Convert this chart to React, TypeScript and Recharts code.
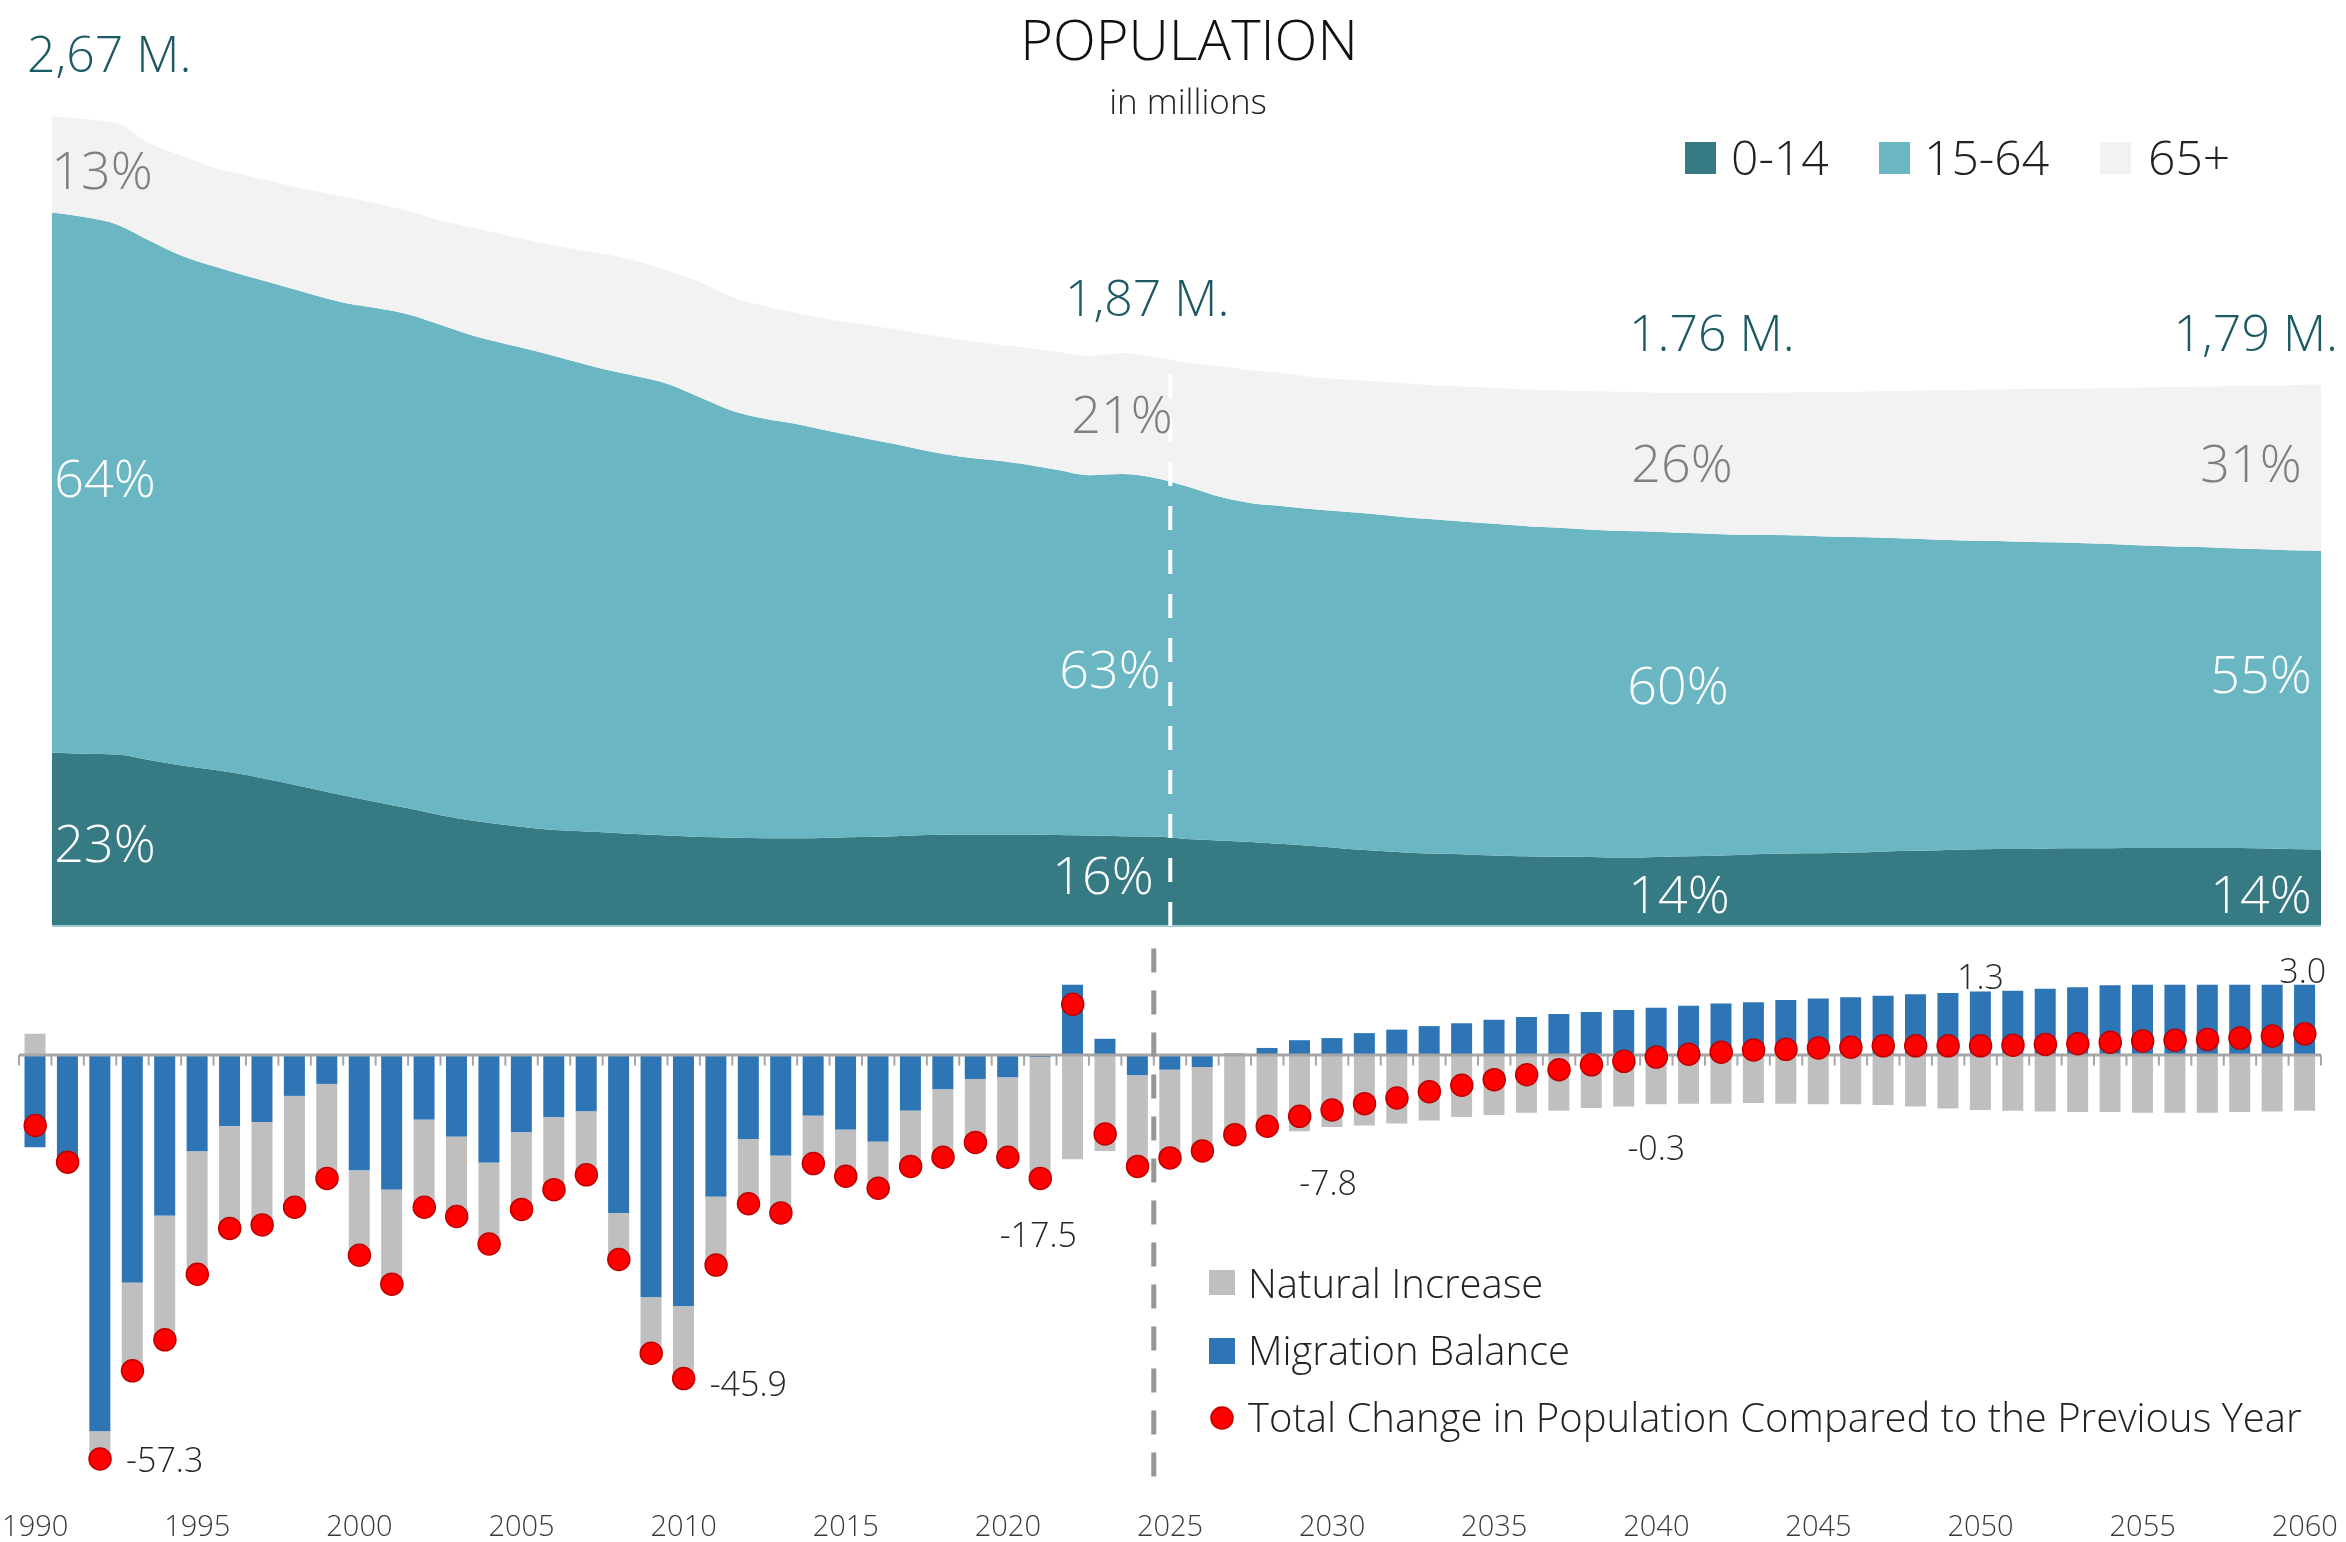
import React from "react";
import {
  AreaChart, Area, ComposedChart, Bar, Line, XAxis, YAxis, ReferenceLine, LabelList,
} from "recharts";

const YEARS = [
  1990, 1991, 1992, 1993, 1994, 1995, 1996, 1997, 1998, 1999,
  2000, 2001, 2002, 2003, 2004, 2005, 2006, 2007, 2008, 2009,
  2010, 2011, 2012, 2013, 2014, 2015, 2016, 2017, 2018, 2019,
  2020, 2021, 2022, 2023, 2024, 2025, 2026, 2027, 2028, 2029,
  2030, 2031, 2032, 2033, 2034, 2035, 2036, 2037, 2038, 2039,
  2040, 2041, 2042, 2043, 2044, 2045, 2046, 2047, 2048, 2049,
  2050, 2051, 2052, 2053, 2054, 2055, 2056, 2057, 2058, 2059,
  2060,
];

// population by age group, millions
const AGE_0_14 = [
  0.572, 0.568, 0.565, 0.547, 0.529, 0.515, 0.498, 0.476, 0.453, 0.430,
  0.409, 0.388, 0.365, 0.347, 0.333, 0.321, 0.314, 0.309, 0.303, 0.298,
  0.293, 0.291, 0.289, 0.289, 0.291, 0.293, 0.296, 0.300, 0.302, 0.302,
  0.302, 0.300, 0.298, 0.296, 0.295, 0.287, 0.282, 0.277, 0.270, 0.263,
  0.254, 0.247, 0.241, 0.238, 0.234, 0.231, 0.229, 0.228, 0.226, 0.226,
  0.229, 0.231, 0.234, 0.238, 0.240, 0.241, 0.243, 0.247, 0.249, 0.252,
  0.254, 0.254, 0.256, 0.256, 0.257, 0.257, 0.257, 0.257, 0.256, 0.254,
  0.252,
];
const AGE_15_64 = [
  1.780, 1.769, 1.748, 1.713, 1.681, 1.660, 1.645, 1.637, 1.630, 1.625,
  1.628, 1.628, 1.616, 1.599, 1.586, 1.572, 1.550, 1.527, 1.510, 1.489,
  1.449, 1.407, 1.383, 1.365, 1.340, 1.317, 1.293, 1.266, 1.246, 1.234,
  1.220, 1.204, 1.188, 1.194, 1.183, 1.163, 1.134, 1.117, 1.114, 1.110,
  1.111, 1.109, 1.104, 1.100, 1.095, 1.091, 1.086, 1.082, 1.078, 1.075,
  1.068, 1.063, 1.056, 1.051, 1.047, 1.042, 1.039, 1.031, 1.025, 1.019,
  1.015, 1.012, 1.008, 1.005, 1.000, 0.996, 0.993, 0.989, 0.987, 0.985,
  0.985,
];
const AGE_65_PLUS = [
  0.317, 0.323, 0.334, 0.320, 0.330, 0.325, 0.332, 0.336, 0.342, 0.350,
  0.346, 0.340, 0.344, 0.356, 0.358, 0.361, 0.369, 0.380, 0.380, 0.374,
  0.380, 0.375, 0.371, 0.366, 0.368, 0.375, 0.378, 0.383, 0.385, 0.383,
  0.385, 0.389, 0.393, 0.399, 0.397, 0.408, 0.429, 0.438, 0.438, 0.435,
  0.436, 0.438, 0.442, 0.443, 0.447, 0.449, 0.452, 0.454, 0.458, 0.459,
  0.461, 0.464, 0.468, 0.469, 0.473, 0.477, 0.480, 0.486, 0.491, 0.496,
  0.500, 0.505, 0.507, 0.511, 0.517, 0.523, 0.528, 0.533, 0.538, 0.544,
  0.548,
];

// yearly change, thousands
const MIGRATION = [
  -13.1, -15.0, -53.4, -32.3, -22.8, -13.7, -10.1, -9.5, -5.8, -4.1,
  -16.4, -19.1, -9.2, -11.6, -15.3, -11.0, -8.8, -8.0, -22.4, -34.4,
  -35.6, -20.1, -11.9, -14.3, -8.6, -10.6, -12.3, -7.9, -4.9, -3.4,
  -3.2, -0.3, 22.0, 2.3, -2.9, -2.1, -1.7, 0.2, 1.0, 2.1,
  2.4, 3.1, 3.6, 4.1, 4.5, 5.0, 5.4, 5.8, 6.1, 6.4,
  6.7, 7.0, 7.3, 7.5, 7.8, 8.0, 8.2, 8.4, 8.6, 8.8,
  9.0, 9.1, 9.4, 9.6, 9.9, 10.2, 10.3, 10.4, 10.5, 10.7,
  10.9,
];
const NATURAL = [
  3.0, -0.2, -3.9, -12.5, -17.6, -17.4, -14.5, -14.6, -15.8, -13.4,
  -12.0, -13.4, -12.4, -11.3, -11.5, -10.9, -10.3, -9.0, -6.6, -7.9,
  -10.3, -9.7, -9.2, -8.1, -6.8, -6.6, -6.6, -7.9, -9.6, -9.0,
  -11.3, -17.2, -14.8, -13.6, -12.9, -12.5, -11.9, -11.5, -11.1, -10.8,
  -10.2, -10.0, -9.7, -9.3, -8.8, -8.5, -8.2, -7.9, -7.5, -7.3,
  -7.0, -6.9, -6.9, -6.8, -6.9, -7.0, -7.0, -7.1, -7.3, -7.6,
  -7.8, -7.9, -8.0, -8.1, -8.1, -8.2, -8.2, -8.2, -8.1, -8.0,
  -7.9,
];
const TOTAL = [
  -10.0, -15.2, -57.3, -44.8, -40.4, -31.1, -24.6, -24.1, -21.6, -17.5,
  -28.4, -32.5, -21.6, -22.9, -26.8, -21.9, -19.1, -17.0, -29.0, -42.3,
  -45.9, -29.8, -21.1, -22.4, -15.4, -17.2, -18.9, -15.8, -14.5, -12.4,
  -14.5, -17.5, 7.2, -11.2, -15.8, -14.6, -13.6, -11.3, -10.1, -8.7,
  -7.8, -6.9, -6.1, -5.2, -4.3, -3.5, -2.8, -2.1, -1.4, -0.9,
  -0.3, 0.1, 0.4, 0.7, 0.8, 1.0, 1.1, 1.3, 1.3, 1.3,
  1.3, 1.4, 1.5, 1.6, 1.8, 2.0, 2.1, 2.2, 2.4, 2.7,
  3.0,
];

const FONT = '"Segoe UI", "Open Sans", "Noto Sans", sans-serif';
const TEAL_DARK = "#367a83";
const TEAL = "#6ab6c3";
const LIGHT = "#f2f2f2";
const BLUE = "#2e75b6";
const GRAY = "#bfbfbf";
const RED = "#ff0000";
const HEAD = "#1b5a63";

const popData = YEARS.map((year, i) => ({
  year, young: AGE_0_14[i], working: AGE_15_64[i], senior: AGE_65_PLUS[i],
}));
const changeData = YEARS.map((year, i) => ({
  year, migration: MIGRATION[i], natural: NATURAL[i], total: TOTAL[i],
}));

// dots that carry a value label, and where the label sits
const DOT_LABELS: Record<number, { dx: number; dy: number; anchor: "start" | "middle" }> = {
  1992: { dx: 26, dy: 0, anchor: "start" },
  2010: { dx: 26, dy: 4, anchor: "start" },
  2021: { dx: -2, dy: 56, anchor: "middle" },
  2030: { dx: -4, dy: 72, anchor: "middle" },
  2040: { dx: 0, dy: 90, anchor: "middle" },
  2050: { dx: 0, dy: -70, anchor: "middle" },
  2060: { dx: -2, dy: -64, anchor: "middle" },
};

function DotLabel(props: any) {
  const { index, value } = props;
  const cfg = DOT_LABELS[YEARS[index]];
  if (!cfg) return null;
  const x = props.x ?? props.viewBox?.x;
  const y = props.y ?? props.viewBox?.y;
  return (
    <text x={x + cfg.dx} y={y + cfg.dy} textAnchor={cfg.anchor} dominantBaseline="central"
      fontSize={34} fontFamily={FONT} fontWeight={300} fill="#262626">
      {Number(value).toFixed(1)}
    </text>
  );
}

const PCT_LABELS = [
  { t: "13%", x: 102, y: 189, c: "#7f7f7f" },
  { t: "64%", x: 105, y: 497, c: "#fff" },
  { t: "23%", x: 105, y: 862, c: "#fff" },
  { t: "21%", x: 1122, y: 433, c: "#7f7f7f" },
  { t: "63%", x: 1110, y: 688, c: "#fff" },
  { t: "16%", x: 1103, y: 894, c: "#fff" },
  { t: "26%", x: 1682, y: 482, c: "#7f7f7f" },
  { t: "60%", x: 1678, y: 704, c: "#fff" },
  { t: "14%", x: 1679, y: 913, c: "#fff" },
  { t: "31%", x: 2251, y: 482, c: "#7f7f7f" },
  { t: "55%", x: 2261, y: 693, c: "#fff" },
  { t: "14%", x: 2261, y: 913, c: "#fff" },
];

const boundaryYears = YEARS.map((y) => ({ y, pos: "start" as const }))
  .concat([{ y: 2060, pos: "end" as const }]);

export default function App() {
  return (
    <div style={{ position: "fixed", left: 0, top: 0, width: 2346, height: 1542, background: "#fff", fontFamily: FONT }}>
      <div style={{ position: "absolute", left: 0, top: 0 }}>
        <AreaChart width={2346} height={940} data={popData} margin={{ top: 107, right: 25, bottom: 14, left: 52 }}>
          <XAxis dataKey="year" type="number" domain={[1990, 2060]} hide />
          <YAxis domain={[0, 2.7]} hide />
          <Area type="monotone" dataKey="young" stackId="p" stroke="none" fill={TEAL_DARK} fillOpacity={1} isAnimationActive={false} />
          <Area type="monotone" dataKey="working" stackId="p" stroke="none" fill={TEAL} fillOpacity={1} isAnimationActive={false} />
          <Area type="monotone" dataKey="senior" stackId="p" stroke="none" fill={LIGHT} fillOpacity={1} isAnimationActive={false} />
          <ReferenceLine y={0} stroke="#9ccbd3" strokeWidth={2} />
          <ReferenceLine x={2024.5} stroke="#ffffff" strokeWidth={4} strokeDasharray="24 20" />
        </AreaChart>
      </div>

      <div style={{ position: "absolute", left: 0, top: 940 }}>
        <ComposedChart width={2346} height={618} data={changeData} stackOffset="sign" barCategoryGap="17%"
          margin={{ top: 44.5, right: 25, bottom: 0, left: 19 }}>
          <XAxis dataKey="year" interval={4} tickLine={false} axisLine={false} height={80} tickMargin={31}
            tick={{ fontSize: 29, fill: "#3a3a3a", fontFamily: FONT, fontWeight: 300 }} />
          <YAxis domain={[-60, 10]} allowDataOverflow hide />
          <Bar dataKey="migration" stackId="c" fill={BLUE} isAnimationActive={false} />
          <Bar dataKey="natural" stackId="c" fill={GRAY} isAnimationActive={false} />
          <ReferenceLine y={0} stroke="#a6a6a6" strokeWidth={3} />
          {boundaryYears.map((b, i) => (
            <ReferenceLine key={i} position={b.pos} stroke="#a6a6a6" strokeWidth={2}
              segment={[{ x: b.y, y: 0 }, { x: b.y, y: -1.5 }]} />
          ))}
          <ReferenceLine x={2025} position="start"
            shape={(p: any) => (
              <line x1={p.x1} x2={p.x2} y1={Math.min(p.y1, p.y2) - 36} y2={Math.max(p.y1, p.y2)}
                stroke="#969696" strokeWidth={5} strokeDasharray="24 18" />
            )} />
          <Line dataKey="total" stroke="none" activeDot={false} isAnimationActive={false}
            dot={{ r: 11, fill: RED, stroke: "#c00000", strokeWidth: 1.5 }}>
            <LabelList dataKey="total" content={<DotLabel />} />
          </Line>
        </ComposedChart>
      </div>

      <svg width={2346} height={1542} style={{ position: "absolute", left: 0, top: 0, pointerEvents: "none" }}
        fontFamily={FONT} fontWeight={300}>
        <text x={1189} y={60} textAnchor="middle" fontSize={56} fill="#111">POPULATION</text>
        <text x={1188} y={114} textAnchor="middle" fontSize={35} fill="#222">in millions</text>

        <text x={27} y={72} fontSize={50} fill={HEAD}>2,67 M.</text>
        <text x={1065} y={316} fontSize={50} fill={HEAD}>1,87 M.</text>
        <text x={1629} y={351} fontSize={50} fill={HEAD}>1.76 M.</text>
        <text x={2338} y={351} textAnchor="end" fontSize={50} fill={HEAD}>1,79 M.</text>

        {PCT_LABELS.map((l, i) => (
          <text key={i} x={l.x} y={l.y} textAnchor="middle" fontSize={52} fill={l.c}>{l.t}</text>
        ))}

        <rect x={1685} y={142} width={31} height={32} fill={TEAL_DARK} />
        <text x={1731} y={175} fontSize={48} fill="#222">0-14</text>
        <rect x={1879} y={142} width={31} height={32} fill={TEAL} />
        <text x={1924} y={175} fontSize={48} fill="#222">15-64</text>
        <rect x={2100} y={142} width={31} height={32} fill={LIGHT} />
        <text x={2148} y={175} fontSize={48} fill="#222">65+</text>

        <rect x={1209} y={1270} width={26} height={25} fill={GRAY} />
        <text x={1248} y={1298} fontSize={40} fill="#222">Natural Increase</text>
        <rect x={1209} y={1338} width={26} height={26} fill={BLUE} />
        <text x={1248} y={1365} fontSize={40} fill="#222">Migration Balance</text>
        <circle cx={1222} cy={1418} r={11} fill={RED} stroke="#c00000" strokeWidth={1.5} />
        <text x={1248} y={1432} fontSize={40} fill="#222">Total Change in Population Compared to the Previous Year</text>
      </svg>
    </div>
  );
}
